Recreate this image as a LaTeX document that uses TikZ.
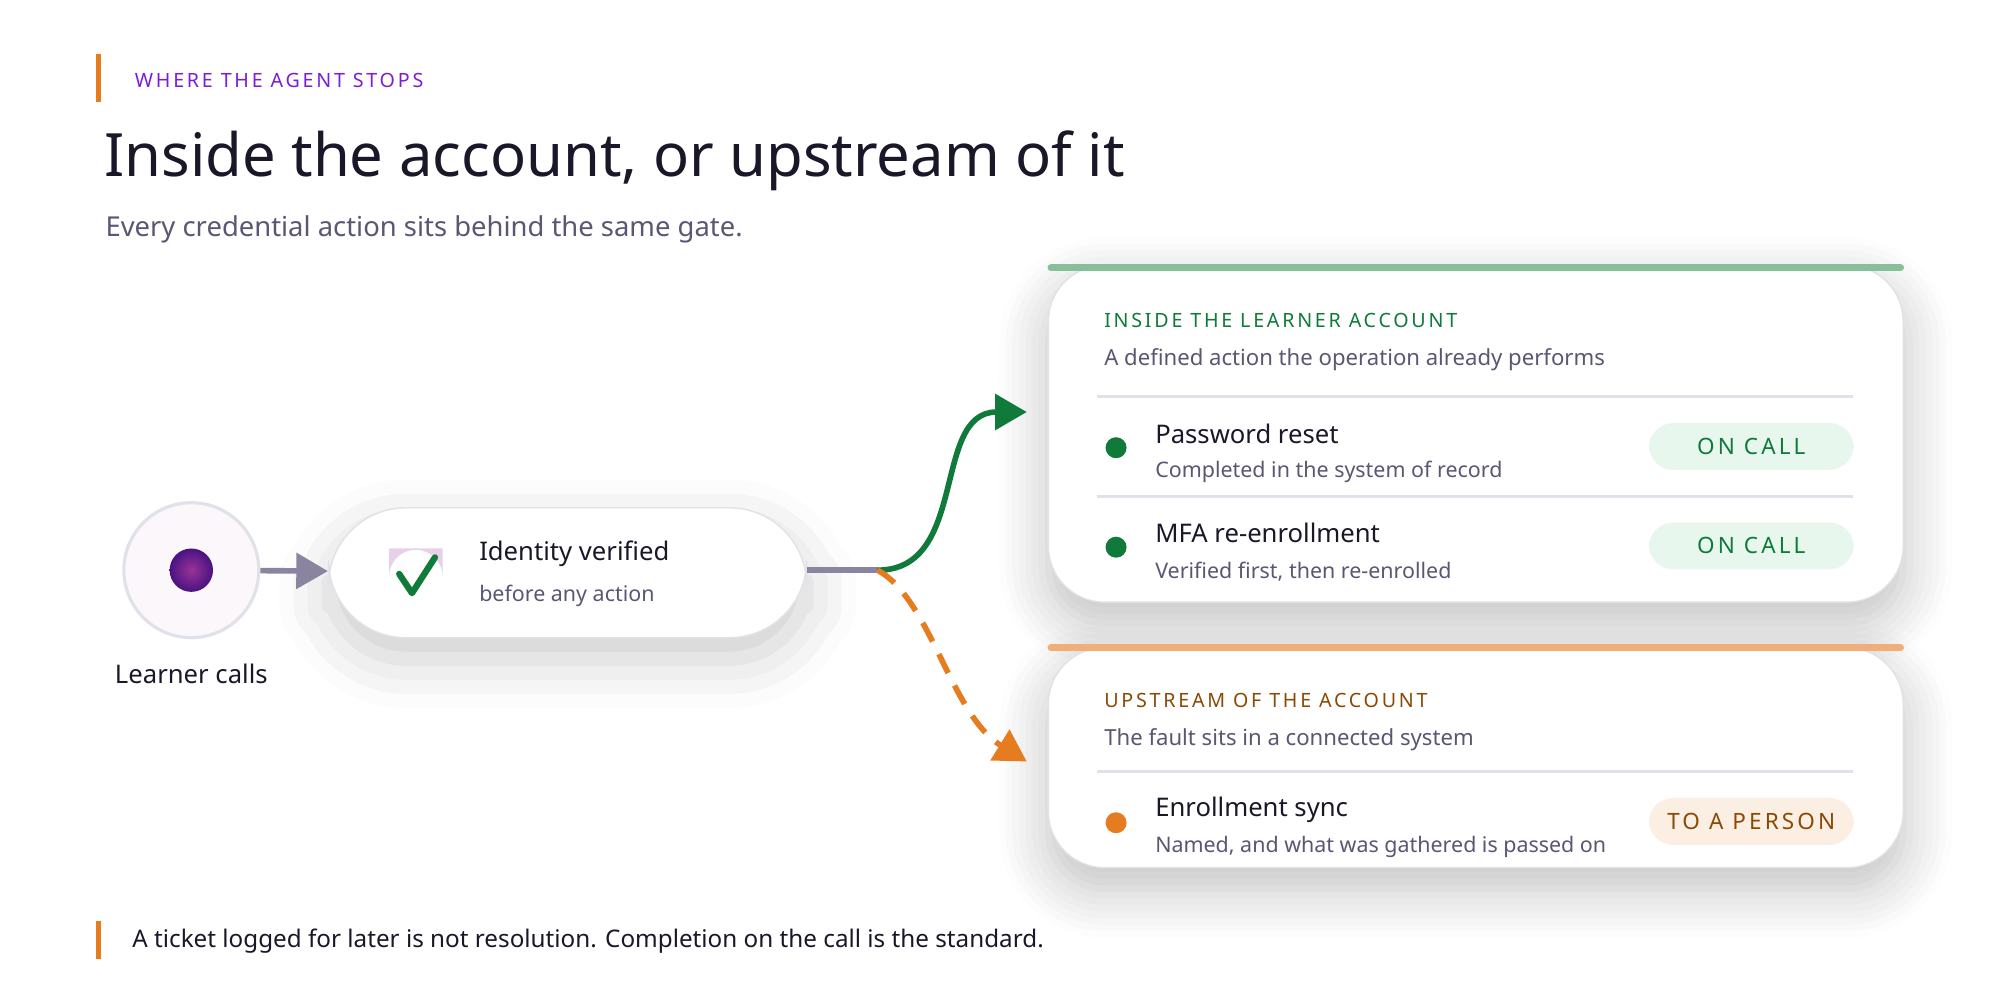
\documentclass[tikz,border=0pt]{standalone}
\usepackage{fontspec}
\setmainfont{Noto Sans}
\newfontfamily\spaced[LetterSpace=14]{Noto Sans}
\usetikzlibrary{arrows.meta,positioning,shapes.geometric,calc,shadows.blur}
\definecolor{ink}{HTML}{1B1728}
\definecolor{muted}{HTML}{5C5673}
\definecolor{kicker}{HTML}{7A1FD6}
\definecolor{gok}{HTML}{0F7A3A}
\definecolor{gbar}{HTML}{86BF9A}
\definecolor{gpill}{HTML}{E8F7EE}
\definecolor{obrown}{HTML}{8A4A05}
\definecolor{oline}{HTML}{E57C1F}
\definecolor{obar}{HTML}{F0AE78}
\definecolor{opill}{HTML}{FBEEE2}
\definecolor{edge}{HTML}{E2E0E8}
\definecolor{flow}{HTML}{8A84A0}
\begin{document}
\begin{tikzpicture}[x=0.012755cm, y=-0.012755cm,
  card/.style={draw=edge, fill=white, rounded corners=16pt, minimum width=8.55cm,
               blur shadow={shadow xshift=0pt, shadow yshift=-6pt, shadow blur steps=8,
               shadow opacity=25, shadow blur radius=14pt}},
  head/.style={anchor=west, font=\spaced\fontsize{5.6}{7}\selectfont\bfseries},
  desc/.style={anchor=west, text=muted, font=\fontsize{6.3}{8}\selectfont},
  item/.style={anchor=west, text=ink, font=\fontsize{7.3}{9}\selectfont\bfseries},
  sub/.style={anchor=west, text=muted, font=\fontsize{6.1}{8}\selectfont},
  pill/.style={rounded corners=7pt, minimum width=2.05cm, minimum height=0.47cm,
               font=\spaced\fontsize{6.4}{8}\selectfont\bfseries},
  dot/.style={circle, minimum size=0.21cm, inner sep=0pt},
  sep/.style={draw=edge, line width=0.8pt},
  tip/.style={-{Triangle[length=9pt, width=10pt]}},
]
\useasboundingbox (0,0) rectangle (1568,784);

% Header
\draw[oline, line width=1.3pt] (77,42) -- (77,80);
\node[head, text=kicker] (kick) at (96,63) {WHERE THE AGENT STOPS};
\node[anchor=west, text=ink, font=\fontsize{17}{20}\selectfont\bfseries] (title) at (72,126)
  {Inside the account, or upstream of it};
\node[anchor=west, text=muted, font=\fontsize{7.8}{9}\selectfont] (subt) at (73,180)
  {Every credential action sits behind the same gate.};

% Caller and gate
\node[circle, draw=edge, line width=0.9pt, fill=violet!3, minimum size=1.35cm] (caller) at (150,447) {};
\shade[inner color=violet!80, outer color=kicker!60!black] (150,447) circle (17);
\node[item, anchor=center] (callerlbl) at (150,528) {Learner calls};

\node[draw=edge, fill=white, rounded corners=22pt, minimum width=4.78cm, minimum height=1.3cm,
      blur shadow={shadow xshift=0pt, shadow yshift=-6pt, shadow opacity=20, shadow blur radius=14pt}]
      (gate) at (445,449) {};
\fill[violet!18] (305,430) -- (347,430) -- (347,452) arc (0:-180:21) -- cycle;
\draw[gok, line width=1.8pt, line cap=round, line join=round] (313,450) -- (323,465) -- (341,437);
\node[item] (gatetitle) at (366,434) {Identity verified};
\node[sub] (gatesub) at (366,467) {before any action};

\draw[flow, line width=1.6pt, tip] (caller) -- (gate);
\coordinate (fork) at (688,447);
\draw[flow, line width=1.6pt] (gate.east |- fork) -- (fork);

% Inside card
\node[card, minimum height=3.37cm] (inside) at (1157,340) {};
\draw[gbar, line width=2pt, line cap=round] (824,210) -- (1490,210);
\node[head, text=gok] (insidehead) at (856,251) {INSIDE THE LEARNER ACCOUNT};
\node[desc] (insidedesc) at (856,282) {A defined action the operation already performs};
\draw[sep] (860,311) -- (1453,311);
\node[dot, fill=gok] (d1) at (875,351) {};
\node[item] (i1) at (896,340) {Password reset};
\node[sub] (s1) at (896,370) {Completed in the system of record};
\node[pill, fill=gpill, text=gok] (p1) at (1373,350) {ON CALL};
\draw[sep] (860,389) -- (1453,389);
\node[dot, fill=gok] (d2) at (875,429) {};
\node[item] (i2) at (896,418) {MFA re-enrollment};
\node[sub] (s2) at (896,448) {Verified first, then re-enrolled};
\node[pill, fill=gpill, text=gok] (p2) at (1373,428) {ON CALL};

% Upstream card
\node[card, minimum height=2.2cm] (upstream) at (1157,594) {};
\draw[obar, line width=2pt, line cap=round] (824,508) -- (1490,508);
\node[head, text=obrown] (uphead) at (856,549) {UPSTREAM OF THE ACCOUNT};
\node[desc] (updesc) at (856,580) {The fault sits in a connected system};
\draw[sep] (860,605) -- (1453,605);
\node[dot, fill=oline] (d3) at (875,645) {};
\node[item] (i3) at (896,635) {Enrollment sync};
\node[sub] (s3) at (896,664) {Named, and what was gathered is passed on};
\node[pill, fill=opill, text=obrown] (p3) at (1373,644) {TO A PERSON};

% Routes
\coordinate (ingo) at (805,323);
\coordinate (upgo) at (805,597);
\draw[gok, line width=1.6pt, tip] (fork) .. controls (760,447) and (730,323) .. (ingo);
\draw[oline, line width=1.6pt, dash pattern=on 6pt off 4pt, tip] (fork) .. controls (730,470) and (745,560) .. (upgo);

% Footer
\draw[oline, line width=1.3pt] (77,722) -- (77,752);
\node[anchor=west, text=ink, font=\fontsize{6.9}{9}\selectfont\bfseries] (foot) at (94,738)
  {A ticket logged for later is not resolution. Completion on the call is the standard.};
\end{tikzpicture}
\end{document}
